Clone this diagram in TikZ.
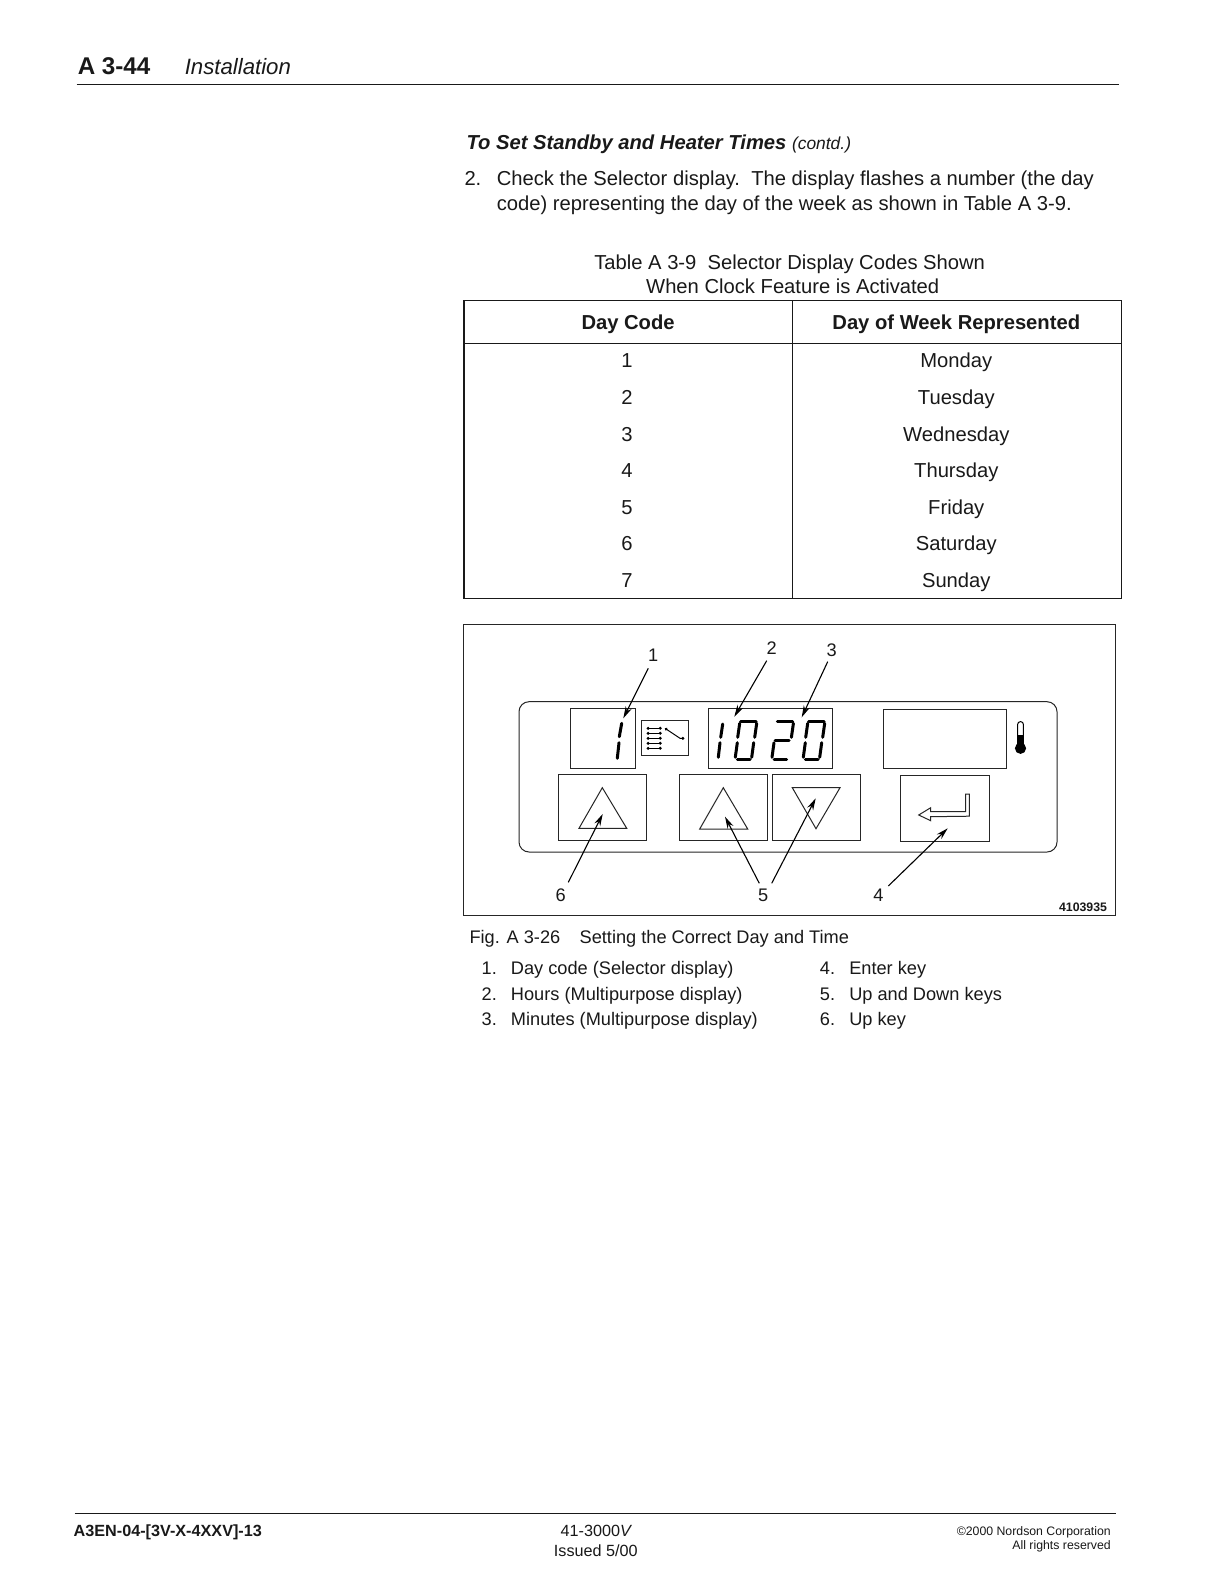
\documentclass[tikz,border=0pt]{standalone}
\usepackage{fontspec}
\setmainfont{Liberation Sans}
\usetikzlibrary{arrows.meta}
\newcommand{\bodyfont}{\fontsize{20.2}{24}\selectfont}
\newcommand{\smallfont}{\fontsize{18.2}{22}\selectfont}
\newcommand{\footfont}{\fontsize{16.2}{20}\selectfont}
\newcommand{\tinyfont}{\fontsize{12.3}{15}\selectfont}
\newcommand{\segA}{\draw[segline] (740.7,721)--(756,721);}
\newcommand{\segB}{\draw[segline] (756.7,723.3)--(754.7,737.3);}
\newcommand{\segC}{\draw[segline] (753.7,742.7)--(751.7,757.3);}
\newcommand{\segD}{\draw[segline] (750,759.3)--(737.3,759.3);}
\newcommand{\segE}{\draw[segline] (735.3,757.3)--(737.3,742.7);}
\newcommand{\segF}{\draw[segline] (737.7,737.3)--(739.7,723.3);}
\newcommand{\segG}{\draw[segline] (738.5,740)--(752.5,740);}
\tikzset{
  txt/.style={inner sep=0pt,outer sep=0pt,font=\bodyfont,anchor=base west,text=black!90},
  ctr/.style={txt,anchor=base},
  rgt/.style={txt,anchor=base east},
  lst/.style={txt,font=\smallfont},
  rule/.style={line width=1.1pt,draw=black!90},
  framerule/.style={line width=1pt,draw=black!85},
  panel/.style={line width=1pt,draw=black!85},
  callout/.style={line width=1.1pt,draw=black,-{Stealth[length=12pt,width=6.5pt]}},
  segline/.style={line width=3pt,draw=black,line cap=round},
  lab/.style={txt,anchor=center,font=\smallfont},
}
\begin{document}
\begin{tikzpicture}[x=1pt,y=-1pt]
\useasboundingbox (0,0) rectangle (1223,1584);
\fill[white] (0,0) rectangle (1223,1584);
% ---------- page text, coordinates slightly scaled
\begin{scope}[xscale=1.0098,yscale=1.0098]
\node[txt,font=\fontsize{24.2}{28}\selectfont\bfseries] (pg) at (77,74) {A 3-44};
\node[txt,font=\fontsize{22.2}{28}\selectfont\itshape] (sec) at (183,74) {Installation};
\draw[rule] (76,84) -- (1108,84);
\node[txt,font=\fontsize{20.2}{26}\selectfont\bfseries\itshape] (hd) at (462,148) {To Set Standby and Heater Times {\mdseries\fontsize{17.4}{22}\selectfont (contd.)}};
\node[txt] (n2) at (460,184) {2.};
\node[txt] (p1) at (492,184) {Check the Selector display.\ \ The display flashes a number (the day};
\node[txt] (p2) at (492,208) {code) representing the day of the week as shown in Table A 3-9.};
\node[ctr] (cap1) at (782,267) {Table A 3-9\ \ Selector Display Codes Shown};
\node[ctr] (cap2) at (785,291) {When Clock Feature is Activated};
% table
\draw[rule] (459.5,297.5) rectangle (1111,593);
\draw[rule] (459.5,340) -- (1111,340);
\draw[rule] (785,297.5) -- (785,593);
\node[ctr,font=\bodyfont\bfseries] (h1) at (622,326) {Day Code};
\node[ctr,font=\bodyfont\bfseries] (h2) at (947,326) {Day of Week Represented};
\foreach \i/\c/\d/\y in {1/1/Monday/364,2/2/Tuesday/400.5,3/3/Wednesday/437,4/4/Thursday/473,5/5/Friday/509.5,6/6/Saturday/545.5,7/7/Sunday/582}{
  \node[ctr] (c\i) at (621,\y) {\c};
  \node[ctr] (d\i) at (947,\y) {\d};
}
% captions
\node[lst] (fig) at (465,934) {Fig. A 3-26};
\node[lst] (figt) at (574,934) {Setting the Correct Day and Time};
\foreach \i/\n/\t/\y in {a/1./Day code (Selector display)/965,b/2./Hours (Multipurpose display)/991,c/3./Minutes (Multipurpose display)/1016}{
  \node[lst] (ln\i) at (477,\y) {\n};
  \node[lst] (lt\i) at (506,\y) {\t};
}
\foreach \i/\n/\t/\y in {d/4./Enter key/965,e/5./Up and Down keys/991,f/6./Up key/1016}{
  \node[lst] (ln\i) at (812,\y) {\n};
  \node[lst] (lt\i) at (841,\y) {\t};
}
% footer
\draw[rule] (74,1499) -- (1105,1499);
\node[txt,font=\footfont\bfseries] (f1) at (73,1522) {A3EN-04-[3V-X-4XXV]-13};
\node[ctr,font=\footfont] (f2) at (590,1522) {41-3000{\itshape V}};
\node[ctr,font=\footfont] (f3) at (590,1541) {Issued 5/00};
\node[rgt,font=\tinyfont] (f4) at (1100,1521) {©2000 Nordson Corporation};
\node[rgt,font=\tinyfont] (f5) at (1100,1534) {All rights reserved};
\end{scope}
% ---------- figure, in true pixels
\draw[framerule] (463,624) rectangle (1115.5,915);
\node[rgt,font=\tinyfont\bfseries] (fignum) at (1107,911) {4103935};
\draw[panel,rounded corners=10pt] (519,701.7) rectangle (1057,852);
\draw[panel] (570,708.3) rectangle (635,768);
\draw[panel] (641.3,720.7) rectangle (688.7,755.3);
\draw[panel] (708.3,708.3) rectangle (832.3,768.3);
\draw[panel] (883.3,709) rectangle (1006.7,768.7);
% keys
\draw[panel] (558.3,774.3) rectangle (646,840.7);
\draw[panel] (602.3,787.7) -- (579,828.3) -- (626.7,828.3) -- cycle;
\draw[panel] (679.3,774.3) rectangle (767.7,840.7);
\draw[panel] (723.3,787.7) -- (699.7,829) -- (747.7,829) -- cycle;
\draw[panel] (772,774.3) rectangle (860,840.7);
\draw[panel] (792.3,787.7) -- (840,787.7) -- (816,828.7) -- cycle;
\draw[panel] (900.7,775.3) rectangle (989,841);
\draw[panel] (918.7,815) -- (930.7,807.7) -- (930.7,811.7) -- (965.7,811.7) -- (965.7,794) -- (969.3,794) -- (969.3,816.2) -- (930.7,816.7) -- (930.7,820.7) -- cycle;
% thermometer
\draw[line width=1pt,draw=black,fill=white,rounded corners=2.5pt] (1017.7,745) -- (1017.7,721.7) -- (1023.3,721.7) -- (1023.3,745);
\fill[black] (1017.2,735) rectangle (1023.8,747);
\fill[black] (1020.5,748.3) circle (5.6pt);
% selector icon
\foreach \y in {728.3,733.3,738.3,743.3,748.3}{
  \draw[line width=1.1pt,black,{Circle[length=2.8pt]}-{Circle[length=2.8pt]}] (646.7,\y) -- (661.7,\y);
}
\draw[line width=1pt,black,{Circle[length=2.8pt]}-{Circle[length=2.8pt]}] (665,728.3) -- (680,738.3) -- (684.3,738.3);
% digits
\draw[segline] (621.7,723.3)--(619.3,736.7);
\draw[segline] (619,742.7)--(617.3,758.3);
\draw[segline] (722.7,724)--(720.7,737.3);
\draw[segline] (720,742.7)--(718.3,757.3);
\segA\segB\segC\segD\segE\segF
\begin{scope}[shift={(36.7,0)}]
\segA\segB\segD\segE\segG
\end{scope}
\begin{scope}[shift={(68,0)}]
\segA\segB\segC\segD\segE\segF
\end{scope}
% callouts
\node[lab] (l1) at (653.3,655) {1};
\node[lab] (l2) at (771.7,648.3) {2};
\node[lab] (l3) at (831.7,650) {3};
\node[lab] (l4) at (878.3,895) {4};
\node[lab] (l5) at (763.3,895) {5};
\node[lab] (l6) at (560.7,895) {6};
\coordinate (s1) at (648.3,668.3); \coordinate (t1) at (623.3,718.3);
\coordinate (s2) at (766.7,660.7); \coordinate (t2) at (734.3,716.7);
\coordinate (s3) at (827.7,661.7); \coordinate (t3) at (801.7,717.3);
\coordinate (s4) at (888.3,886);   \coordinate (t4) at (947.7,828.3);
\coordinate (s5a) at (759.3,883.3); \coordinate (t5a) at (725,816.7);
\coordinate (s5b) at (771.7,883.3); \coordinate (t5b) at (815.7,798.3);
\coordinate (s6) at (568.3,882.3); \coordinate (t6) at (602.7,814);
\draw[callout] (s1) -- (t1);
\draw[callout] (s2) -- (t2);
\draw[callout] (s3) -- (t3);
\draw[callout] (s4) -- (t4);
\draw[callout] (s5a) -- (t5a);
\draw[callout] (s5b) -- (t5b);
\draw[callout] (s6) -- (t6);
\end{tikzpicture}
\end{document}
